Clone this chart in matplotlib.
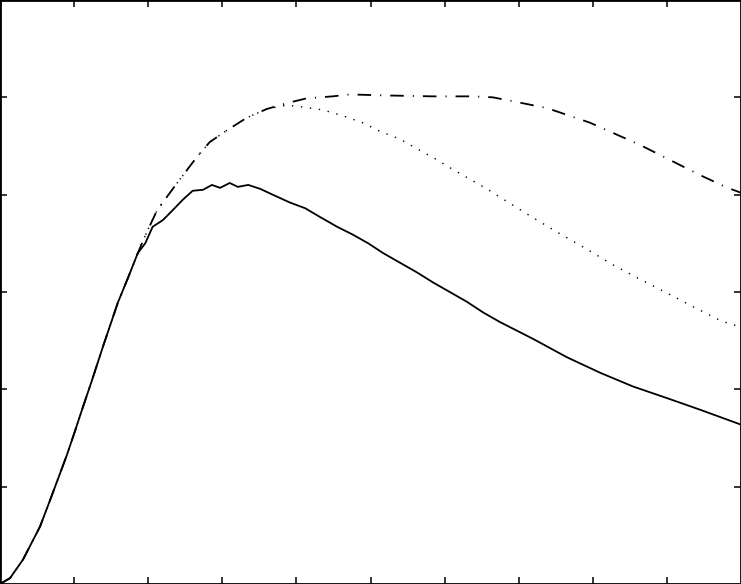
import numpy as np
import matplotlib
matplotlib.use('Agg')
import matplotlib.pyplot as plt

# shared rising part (all three curves coincide here)
rise_x = [0.0, 0.135, 0.31, 0.54, 0.675, 0.90, 0.985, 1.12, 1.24, 1.39, 1.59, 1.73, 1.86]
rise_y = [0.0, 0.06, 0.25, 0.59, 0.86, 1.32, 1.51, 1.82, 2.09, 2.44, 2.89, 3.15, 3.40]

# solid curve after split
solid_x = [1.96, 2.06, 2.20, 2.33, 2.47, 2.60, 2.74, 2.86, 2.97, 3.10, 3.21, 3.35, 3.51,
           3.68, 3.91, 4.12, 4.32, 4.55, 4.76, 4.97, 5.17, 5.40, 5.63, 5.84, 6.07, 6.30,
           6.52, 6.75, 7.19, 7.65, 8.10, 8.54, 9.00, 9.45, 9.99]
solid_y = [3.50, 3.67, 3.74, 3.84, 3.95, 4.04, 4.05, 4.10, 4.07, 4.12, 4.08, 4.10, 4.06,
           4.00, 3.92, 3.86, 3.77, 3.67, 3.59, 3.50, 3.40, 3.30, 3.20, 3.10, 3.00, 2.90,
           2.79, 2.69, 2.52, 2.33, 2.17, 2.03, 1.91, 1.79, 1.64]

# dash-dot curve after split
dashdot_x = [1.96, 2.12, 2.39, 2.66, 2.83, 3.06, 3.33, 3.60, 3.87, 4.14, 4.49, 4.72, 5.17,
             5.84, 6.38, 6.65, 6.92, 7.38, 7.96, 8.64, 9.45, 9.82, 10.0]
dashdot_y = [3.58, 3.84, 4.12, 4.39, 4.54, 4.66, 4.79, 4.88, 4.94, 4.99, 5.01, 5.03, 5.02,
             5.01, 5.01, 5.00, 4.96, 4.89, 4.74, 4.51, 4.20, 4.07, 4.02]

# dotted curve after it leaves the dash-dot one
dotted_x = [3.87, 4.09, 4.36, 4.63, 4.89, 5.13, 5.40, 5.63, 5.87, 6.11, 6.34, 6.59, 6.82,
            7.18, 7.53, 7.92, 8.27, 8.64, 9.00, 9.35, 9.74, 10.0]
dotted_y = [4.92, 4.90, 4.87, 4.81, 4.74, 4.65, 4.57, 4.47, 4.37, 4.26, 4.16, 4.05, 3.94,
            3.77, 3.61, 3.44, 3.28, 3.13, 2.99, 2.85, 2.70, 2.64]

x1 = rise_x + solid_x
y1 = rise_y + solid_y
x2 = rise_x + dashdot_x
y2 = rise_y + dashdot_y
n_shared = 8  # dotted follows dash-dot up to x = 3.60
x3 = rise_x + dashdot_x[:n_shared] + dotted_x
y3 = rise_y + dashdot_y[:n_shared] + dotted_y

fig = plt.figure(figsize=(7.41, 5.84), dpi=100)
ax = fig.add_axes([0, 0, 1, 1])

ax.plot(x1, y1, color='black', lw=1.3, ls='-')
ax.plot(x2, y2, color='black', lw=1.3, ls=(0, (7.5, 5, 0.6, 5)))
ax.plot(x3, y3, color='black', lw=1.0, ls=(0, (1, 5.5)))

ax.set_xlim(0, 10)
ax.set_ylim(0, 6)
ax.set_xticks(np.arange(1, 10))
ax.set_yticks(np.arange(1, 6))
ax.tick_params(direction='in', length=5, width=1.1, top=True, right=True,
               labelbottom=False, labelleft=False)
for s in ax.spines.values():
    s.set_linewidth(2)

fig.savefig('out.png', dpi=100)
